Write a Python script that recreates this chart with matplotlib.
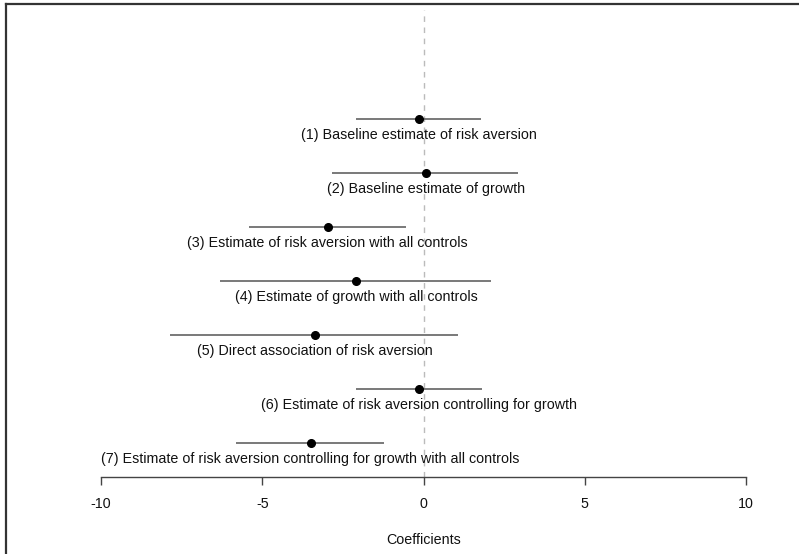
import matplotlib.pyplot as plt
from matplotlib.lines import Line2D

plt.rcParams['font.family'] = ['Liberation Sans', 'DejaVu Sans']

# Coefficient estimates and confidence intervals, top to bottom
labels = [
    "(1) Baseline estimate of risk aversion",
    "(2) Baseline estimate of growth",
    "(3) Estimate of risk aversion with all controls",
    "(4) Estimate of growth with all controls",
    "(5) Direct association of risk aversion",
    "(6) Estimate of risk aversion controlling for growth",
    "(7) Estimate of risk aversion controlling for growth with all controls",
]
estimates = [-0.15, 0.08, -2.97, -2.08, -3.37, -0.15, -3.5]
lower = [-2.1, -2.85, -5.42, -6.32, -7.86, -2.1, -5.8]
upper = [1.78, 2.94, -0.53, 2.1, 1.08, 1.8, -1.24]
xticks = [-10, -5, 0, 5, 10]

fs = 10.3
W, H = 799, 554
fig = plt.figure(figsize=(W / 100, H / 100), dpi=100)
# axes placed in pixels: x from 101 to 746, y from 10 to 477 (top-down)
ax = fig.add_axes([101 / W, 1 - 477 / H, (746 - 101) / W, (477 - 10) / H])

n = len(labels)
ypos = [n - i for i in range(n)]

ax.axvline(0, color='#bbbbbb', linestyle=(0, (4, 4)), linewidth=1, zorder=1)
ax.hlines(ypos, lower, upper, color='#555555', linewidth=1.1, zorder=2)
ax.plot(estimates, ypos, 'o', color='black', markersize=5.5, zorder=3)

for x, y, lab in zip(estimates, ypos, labels):
    ax.annotate(lab, (x, y), xytext=(0, -11.5), textcoords='offset points',
                ha='center', va='center', fontsize=fs, color='#111111')

ax.set_xlim(-10, 10)
ax.set_ylim(0.37, 9.02)
ax.set_xticks(xticks)
ax.set_xticklabels([str(t) for t in xticks])
ax.set_yticks([])
for s in ['top', 'right', 'left']:
    ax.spines[s].set_visible(False)
ax.spines['bottom'].set_color('#444444')
ax.spines['bottom'].set_linewidth(1)
ax.tick_params(axis='x', direction='out', length=6, width=1, color='#444444',
               pad=8.5, labelsize=fs, labelcolor='#111111')
ax.set_xlabel('Coefficients', fontsize=fs, color='#111111', labelpad=16)

# frame remnants along the top and left edges
fig.add_artist(Line2D([5.5 / W, 1], [1 - 3.5 / H, 1 - 3.5 / H],
                      transform=fig.transFigure, color='#333333', linewidth=1.6))
fig.add_artist(Line2D([5.5 / W, 5.5 / W], [0, 1 - 3.5 / H],
                      transform=fig.transFigure, color='#333333', linewidth=1.6))

fig.savefig('out.png', dpi=100)
